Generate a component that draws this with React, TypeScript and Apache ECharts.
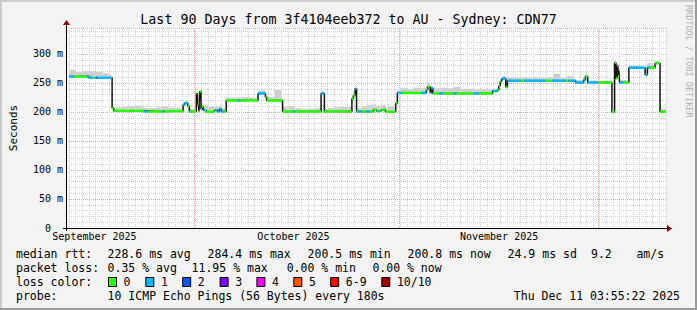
import React, { useEffect, useRef } from 'react';
import * as echarts from 'echarts';

const TITLE = 'Last 90 Days from 3f4104eeb372 to AU - Sydney: CDN77';
const SIDE_TEXT = 'RRDTOOL / TOBI OETIKER';
const Y_AXIS_NAME = 'Seconds';
const Y_MAX_MS = 344.8;
const MONTH_LABELS = ['September 2025', 'October 2025', 'November 2025'];
const MONTH_LABEL_DAYS = [3.84, 33.84, 64.84];
const MONTH_START_DAYS = [18.84, 49.84, 79.84];

// median rtt steps: [days since start, ms held until next step]
const MEDIAN_STEPS: [number, number][] = [
  [0, 261], [3.0, 259], [6.5, 207], [6.75, 202], [11.35, 200.8], [14.1, 201.5],
  [17.2, 212], [17.4, 215], [17.9, 210], [18.15, 201], [19.2, 232], [19.35, 212],
  [19.5, 215], [19.6, 201], [19.7, 235], [19.9, 205], [20.05, 209], [20.25, 203],
  [20.7, 200.5], [21.9, 203], [22.35, 201], [22.65, 205], [22.95, 201], [23.7, 220],
  [28.5, 232], [29.6, 226], [29.8, 220], [32.2, 200.8], [38.0, 232], [38.5, 201],
  [42.65, 223], [42.85, 228], [43.15, 240], [43.35, 201], [45.9, 204], [46.35, 201.5],
  [47.1, 204], [47.7, 200.5], [49.25, 215], [49.5, 233], [53.85, 238], [54.1, 243],
  [54.45, 233], [54.6, 241], [54.85, 232], [63.85, 236], [64.6, 238], [64.8, 245],
  [65.0, 252], [65.2, 256], [65.4, 258], [65.85, 243], [66.1, 254], [76.35, 251],
  [77.6, 255], [77.85, 261], [78.2, 251], [81.85, 200.6], [82.25, 285], [82.45, 258],
  [82.6, 280], [82.75, 262], [82.9, 272], [83.0, 251], [84.4, 276.4], [86.85, 264],
  [87.2, 276.5], [88.35, 284], [89.1, 200.6], [90, 200.6],
];

// packet loss periods: [start day, end day, lost pings]; elsewhere 0
const LOSS_SEGMENTS: [number, number, number][] = [
  [0.0, 0.8, 1], [2.8, 3.6, 1], [4.0, 4.3, 2], [4.3, 6.5, 1], [11.3, 11.9, 1],
  [14.1, 14.4, 1], [17.3, 17.9, 1], [20.3, 20.5, 1], [22.05, 22.6, 1], [22.8, 23.4, 1],
  [25.35, 25.8, 1], [28.5, 29.6, 1], [33.85, 34.1, 1], [38.0, 38.5, 1], [43.15, 43.35, 1],
  [43.6, 44.1, 1], [44.85, 45.3, 1], [46.6, 46.9, 1], [49.5, 50.1, 1], [53.1, 53.85, 1],
  [54.3, 54.85, 1], [55.9, 56.4, 1], [57.9, 58.4, 1], [61.05, 61.8, 1], [63.85, 64.5, 1],
  [65.1, 65.85, 1], [66.1, 68.1, 1], [68.6, 71.9, 1], [72.8, 74.85, 1], [75.3, 77.85, 1],
  [78.2, 79.85, 1], [83.0, 83.5, 1], [84.4, 87.6, 1],
];

// smoke spread above the median, ms, one value per day
const SMOKE_SPREAD = [
  12, 8, 10, 12, 10, 8, 6,
  6, 7, 8, 9, 6, 6, 7, 8, 6, 6, 5,
  4, 3, 8, 8, 7, 6,
  5, 5, 6, 5, 4, 6, 6, 18,
  8, 9, 6, 5, 5, 6,
  4, 6, 7, 8, 8,
  6, 9, 11, 9, 8, 9, 4,
  8, 7, 9, 8,
  8, 9, 10, 9, 11, 8, 8, 7, 8, 6, 4,
  4, 6, 5, 6, 5, 6, 5, 6, 12, 5, 8, 4,
  4, 3, 3, 3, 3,
  3, 4, 4,
  4, 3, 8, 4,
  5,
];

const LOSS_COLORS = ['#26ff00', '#00b8ff', '#0059ff', '#7e00ff', '#ff00ff', '#ff5500', '#ff0000', '#a10000'];
const LOSS_LABELS = ['0', '1', '2', '3', '4', '5', '6-9', '10/10'];
const RTT_STATS = ['228.6 ms avg', '284.4 ms max', '200.5 ms min', '200.8 ms now', '24.9 ms sd', '9.2', 'am/s'];
const LOSS_STATS = ['0.35 % avg', '11.95 % max', '0.00 % min', '0.00 % now'];
const PROBE_TEXT = '10 ICMP Echo Pings (56 Bytes) every 180s';
const STAMP_TEXT = 'Thu Dec 11 03:55:22 2025';

// layout
const GRID = { left: 66, top: 28, width: 600, height: 200 };
const MONO = 'DejaVu Sans Mono';
const RTT_X = [107.6, 207.6, 307.6, 407.6, 507.6, 591, 636.4];
const LOSS_X = [107.6, 191.6, 286.7, 372.4];
const BOX_X = [108, 145.3, 182.2, 219.6, 256.4, 293.3, 330.2, 381.3];
const ROW_Y = [254, 268, 282, 296];
const MINOR_GRID = '#d2d2d2';
const MAJOR_GRID = '#f0a0a0';

function medAt(t: number) {
  let v = MEDIAN_STEPS[0][1];
  for (const [d, m] of MEDIAN_STEPS) {
    if (d <= t) v = m;
    else break;
  }
  return v;
}

function lossAt(t: number) {
  for (const [a, b, l] of LOSS_SEGMENTS) if (t >= a && t < b) return l;
  return 0;
}

function buildColorSegments() {
  const cuts: number[] = [];
  LOSS_SEGMENTS.forEach(([a, b]) => { cuts.push(a, b); });
  const segs: number[][] = [];
  for (let i = 0; i < MEDIAN_STEPS.length - 1; i++) {
    const [a, v] = MEDIAN_STEPS[i];
    const b = MEDIAN_STEPS[i + 1][0];
    const pts = [a, ...cuts.filter((c) => c > a && c < b).sort((x, y) => x - y), b];
    for (let j = 0; j < pts.length - 1; j++) {
      const m = (pts[j] + pts[j + 1]) / 2;
      segs.push([pts[j], pts[j + 1], v, lossAt(m)]);
    }
  }
  return segs;
}

function buildOption() {
  const txt = (text: string, x: number, y: number, extra: any = {}) => ({
    type: 'text', x, y, silent: true,
    style: { text, fill: '#000', font: `11.5px "${MONO}"`, align: 'left', verticalAlign: 'middle', ...extra },
  });
  const right = GRID.left + GRID.width;
  const bottom = GRID.top + GRID.height;

  const graphic: any[] = [
    // frame
    { type: 'rect', shape: { x: 0, y: 0, width: 697, height: 2 }, style: { fill: '#cbcbcb' }, silent: true },
    { type: 'rect', shape: { x: 0, y: 0, width: 2, height: 310 }, style: { fill: '#cbcbcb' }, silent: true },
    { type: 'rect', shape: { x: 0, y: 308, width: 697, height: 2 }, style: { fill: '#999999' }, silent: true },
    { type: 'rect', shape: { x: 695, y: 0, width: 2, height: 310 }, style: { fill: '#999999' }, silent: true },
    txt(TITLE, 348.5, 19, { align: 'center', font: `13.3px "${MONO}"` }),
    {
      type: 'text', x: 689, y: 5, rotation: -Math.PI / 2, silent: true,
      style: { text: SIDE_TEXT, fill: '#b4b4b4', font: `8.5px "${MONO}"`, align: 'left', verticalAlign: 'middle' },
    },
    // axes with arrows
    { type: 'line', z: 100, shape: { x1: GRID.left - 3, y1: bottom + 0.5, x2: right + 2, y2: bottom + 0.5 }, style: { stroke: '#000', lineWidth: 1 }, silent: true },
    { type: 'line', z: 100, shape: { x1: GRID.left + 0.5, y1: bottom + 3, x2: GRID.left + 0.5, y2: GRID.top - 4 }, style: { stroke: '#000', lineWidth: 1 }, silent: true },
    { type: 'polygon', z: 100, shape: { points: [[right + 1, bottom - 3], [right + 6, bottom + 0.5], [right + 1, bottom + 4]] }, style: { fill: '#8b0000' }, silent: true },
    { type: 'polygon', z: 100, shape: { points: [[GRID.left - 3, GRID.top - 3], [GRID.left + 0.5, GRID.top - 8], [GRID.left + 4, GRID.top - 3]] }, style: { fill: '#8b0000' }, silent: true },
    // legend rows
    txt('median rtt:', 16, ROW_Y[0]),
    ...RTT_STATS.map((s, i) => txt(s, RTT_X[i], ROW_Y[0])),
    txt('packet loss:', 16, ROW_Y[1]),
    ...LOSS_STATS.map((s, i) => txt(s, LOSS_X[i], ROW_Y[1])),
    txt('loss color:', 16, ROW_Y[2]),
    ...LOSS_COLORS.map((c, i) => ({
      type: 'rect', silent: true,
      shape: { x: BOX_X[i] + 0.5, y: ROW_Y[2] - 4.5, width: 8, height: 9 },
      style: { fill: c, stroke: '#000', lineWidth: 1 },
    })),
    ...LOSS_LABELS.map((s, i) => txt(s, BOX_X[i] + 15.6, ROW_Y[2])),
    txt('probe:', 16, ROW_Y[3]),
    txt(PROBE_TEXT, 107.6, ROW_Y[3]),
    txt(STAMP_TEXT, 680, ROW_Y[3], { align: 'right' }),
  ];

  const colorSegs = buildColorSegments();
  const smokeData = SMOKE_SPREAD.map((s, i) => [i, s]);
  const majorStyle = { color: MAJOR_GRID, width: 1, type: [1, 1] };

  return {
    animation: false,
    backgroundColor: '#f3f3f3',
    grid: { ...GRID, show: true, backgroundColor: '#ffffff', borderWidth: 0, containLabel: false },
    xAxis: {
      type: 'value', min: 0, max: 90, interval: 1,
      axisLine: { show: false },
      axisTick: { show: false },
      splitLine: { show: true, lineStyle: { color: MINOR_GRID, width: 1, type: [1, 1] } },
      axisLabel: {
        show: true,
        customValues: MONTH_LABEL_DAYS,
        formatter: (v: number) => {
          let best = 0;
          MONTH_LABEL_DAYS.forEach((d, i) => { if (Math.abs(d - v) < Math.abs(MONTH_LABEL_DAYS[best] - v)) best = i; });
          return MONTH_LABELS[best];
        },
        margin: 3,
        color: '#000',
        fontFamily: MONO,
        fontSize: 10,
      },
    },
    yAxis: [
      {
        type: 'value', min: 0, max: Y_MAX_MS, interval: 10,
        name: Y_AXIS_NAME, nameLocation: 'middle', nameGap: 50,
        nameTextStyle: { fontFamily: MONO, fontSize: 11, color: '#000' },
        axisLine: { show: false },
        axisTick: { show: false },
        splitLine: { show: true, lineStyle: { color: MINOR_GRID, width: 1, type: [1, 1] } },
        axisLabel: {
          formatter: (v: number) => (Math.abs(v % 50) < 1e-6 ? (v === 0 ? '{z|0}' : `${v} m`) : ''),
          rich: { z: { padding: [0, 12, 0, 0], fontFamily: MONO, fontSize: 10, color: '#000' } },
          margin: 6,
          color: '#000',
          fontFamily: MONO,
          fontSize: 10,
          showMaxLabel: false,
        },
      },
      {
        type: 'value', min: 0, max: Y_MAX_MS, interval: 50, position: 'left',
        axisLine: { show: false }, axisTick: { show: false }, axisLabel: { show: false },
        splitLine: { show: true, showMinLine: false, lineStyle: majorStyle },
      },
    ],
    graphic,
    series: [
      {
        type: 'custom', name: 'smoke', z: 2, silent: true, clip: true,
        data: smokeData,
        encode: { x: 0, y: 1 },
        markLine: {
          silent: true, symbol: 'none', label: { show: false }, animation: false,
          lineStyle: majorStyle,
          data: MONTH_START_DAYS.map((d) => ({ xAxis: d, lineStyle: majorStyle })),
        },
        renderItem: (params: any, api: any) => {
          const d0 = api.value(0) as number;
          const s = api.value(1) as number;
          const top: number[][] = [];
          const bot: number[][] = [];
          const n = 8;
          for (let k = 0; k <= n; k++) {
            const t = Math.min(d0 + k / n, 90);
            const tm = k === n ? t - 1e-6 : t;
            const m = medAt(tm);
            top.push(api.coord([t, m + s]));
            bot.push(api.coord([t, m]));
          }
          return {
            type: 'polygon',
            shape: { points: [...top, ...bot.reverse()] },
            style: { fill: '#d0d0d0', stroke: null },
          };
        },
      },
      {
        type: 'line', name: 'median', z: 3, silent: true,
        data: MEDIAN_STEPS,
        step: 'end', symbol: 'none',
        lineStyle: { color: '#141414', width: 1.5 },
      },
      {
        type: 'custom', name: 'loss color', z: 4, silent: true, clip: true,
        data: colorSegs,
        encode: { x: [0, 1], y: 2 },
        renderItem: (params: any, api: any) => {
          const v = api.value(2);
          const p1 = api.coord([api.value(0), v]);
          const p2 = api.coord([api.value(1), v]);
          return {
            type: 'line',
            shape: { x1: p1[0], y1: p1[1], x2: p2[0], y2: p2[1] },
            style: { stroke: LOSS_COLORS[api.value(3) as number], lineWidth: 2.5, lineCap: 'butt' },
          };
        },
      },
    ],
  };
}

export default function App() {
  const ref = useRef<HTMLDivElement>(null);
  useEffect(() => {
    if (!ref.current) return;
    const chart = echarts.init(ref.current, null, { renderer: 'svg' });
    chart.setOption(buildOption() as any);
    return () => chart.dispose();
  }, []);
  return <div ref={ref} style={{ position: 'fixed', left: 0, top: 0, width: 697, height: 310 }} />;
}
